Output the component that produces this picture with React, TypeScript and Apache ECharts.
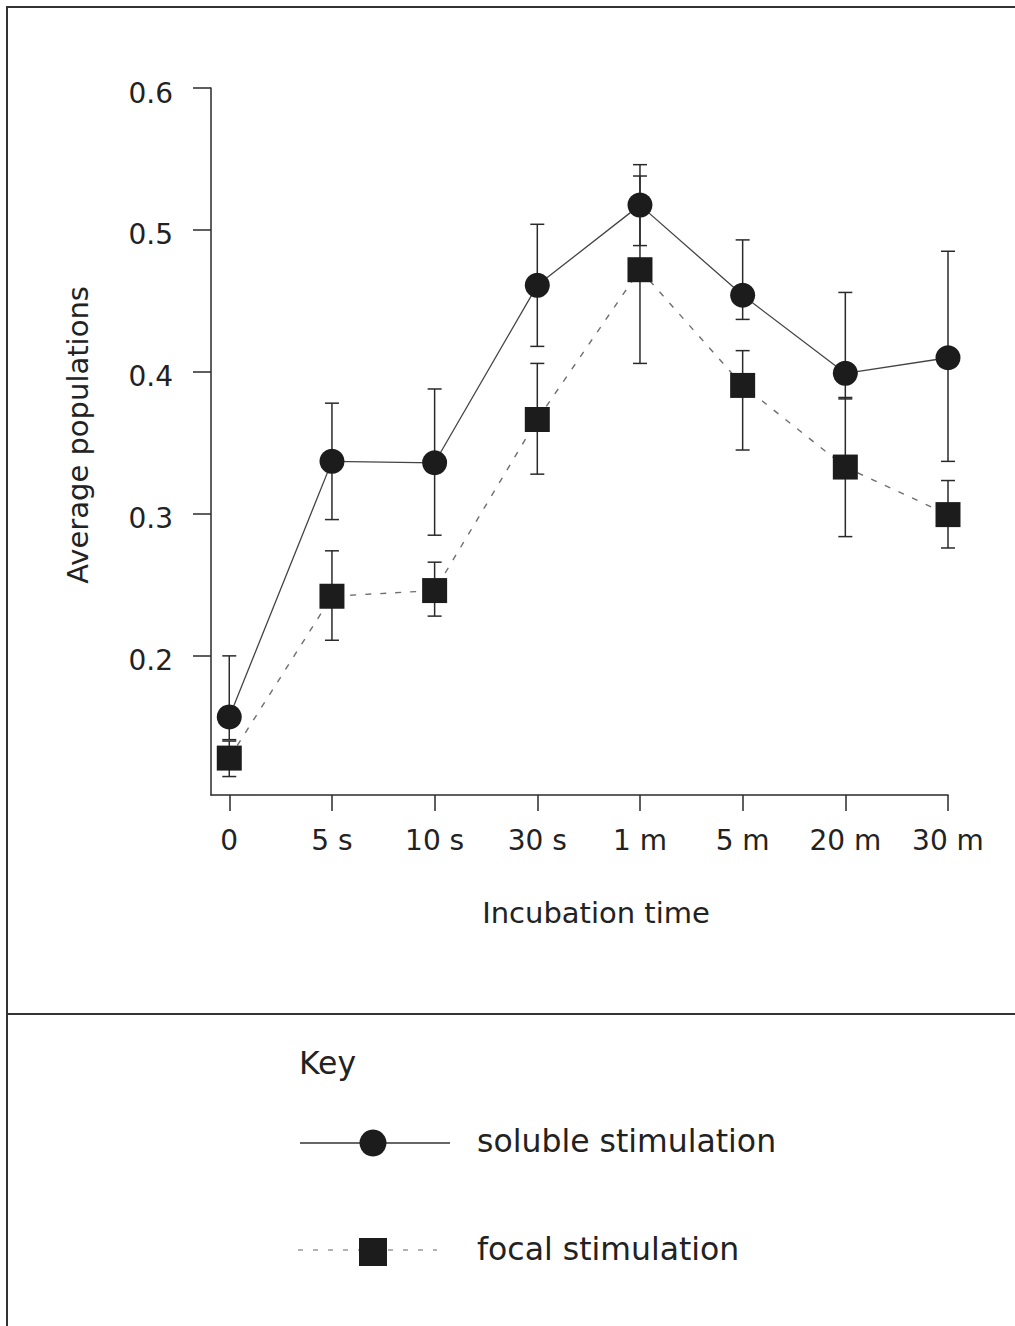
import React, { useEffect, useRef } from "react";
import * as echarts from "echarts";

const categories = ["0", "5 s", "10 s", "30 s", "1 m", "5 m", "20 m", "30 m"];
const yTicks = [0.2, 0.3, 0.4, 0.5, 0.6];

const solubleMean = [0.157, 0.337, 0.336, 0.461, 0.5175, 0.454, 0.399, 0.41];
const solubleHigh = [0.2, 0.378, 0.388, 0.504, 0.546, 0.493, 0.456, 0.485];
const solubleLow = [0.141, 0.296, 0.285, 0.418, 0.489, 0.437, 0.381, 0.337];

const focalMean = [0.128, 0.242, 0.246, 0.3665, 0.472, 0.3905, 0.333, 0.2995];
const focalHigh = [0.14, 0.274, 0.266, 0.406, 0.538, 0.415, 0.382, 0.3235];
const focalLow = [0.115, 0.211, 0.228, 0.328, 0.406, 0.345, 0.284, 0.276];

const FONT = "DejaVu Sans";
const INK = "#222";

function errorRender(params: any, api: any) {
  const x = api.value(0);
  const lo = api.value(1);
  const hi = api.value(2);
  const pLo = api.coord([x, lo]);
  const pHi = api.coord([x, hi]);
  const hw = 7;
  const st = { stroke: "#2a2a2a", lineWidth: 1.5 };
  return {
    type: "group",
    children: [
      { type: "line", shape: { x1: pHi[0], y1: pHi[1], x2: pLo[0], y2: pLo[1] }, style: st },
      { type: "line", shape: { x1: pHi[0] - hw, y1: pHi[1], x2: pHi[0] + hw, y2: pHi[1] }, style: st },
      { type: "line", shape: { x1: pLo[0] - hw, y1: pLo[1], x2: pLo[0] + hw, y2: pLo[1] }, style: st },
    ],
  };
}

export default function App() {
  const ref = useRef<HTMLDivElement>(null);
  useEffect(() => {
    if (!ref.current) return;
    const chart = echarts.init(ref.current, undefined, { renderer: "svg" });
    const xs = categories.map((_, i) => i);
    const option: any = {
      animation: false,
      backgroundColor: "#fff",
      grid: { left: 211, right: 67, top: 88, bottom: 531 },
      xAxis: {
        type: "value",
        min: -0.178,
        max: 7,
        splitLine: { show: false },
        axisLine: { show: true, onZero: false, lineStyle: { color: "#2a2a2a", width: 1.5 } },
        axisTick: {
          show: true,
          length: 16,
          customValues: xs,
          lineStyle: { color: "#2a2a2a", width: 1.5 },
        },
        axisLabel: {
          customValues: xs,
          margin: 31,
          fontFamily: FONT,
          fontSize: 28,
          color: INK,
          formatter: (v: number) => categories[Math.round(v)] ?? "",
        },
      },
      yAxis: {
        type: "value",
        min: 0.102,
        max: 0.6,
        splitLine: { show: false },
        axisLine: { show: true, onZero: false, lineStyle: { color: "#2a2a2a", width: 1.5 } },
        axisTick: {
          show: true,
          length: 18,
          customValues: yTicks,
          lineStyle: { color: "#2a2a2a", width: 1.5 },
        },
        axisLabel: {
          customValues: yTicks,
          margin: 38,
          fontFamily: FONT,
          fontSize: 28,
          color: INK,
          verticalAlign: "top",
          lineHeight: 10,
          formatter: (v: number) => v.toFixed(1),
        },
      },
      series: [
        {
          type: "custom",
          name: "soluble err",
          renderItem: errorRender,
          encode: { x: 0, y: [1, 2] },
          data: xs.map((x, i) => [x, solubleLow[i], solubleHigh[i]]),
          z: 1,
          silent: true,
        },
        {
          type: "custom",
          name: "focal err",
          renderItem: errorRender,
          encode: { x: 0, y: [1, 2] },
          data: xs.map((x, i) => [x, focalLow[i], focalHigh[i]]),
          z: 1,
          silent: true,
        },
        {
          type: "line",
          name: "focal stimulation",
          data: xs.map((x, i) => [x, focalMean[i]]),
          symbol: "rect",
          symbolSize: 25,
          itemStyle: { color: "#1c1c1c" },
          lineStyle: { color: "#6e6e6e", width: 1.4, type: [6, 9] },
          z: 3,
        },
        {
          type: "line",
          name: "soluble stimulation",
          data: xs.map((x, i) => [x, solubleMean[i]]),
          symbol: "circle",
          symbolSize: 25,
          itemStyle: { color: "#1c1c1c" },
          lineStyle: { color: "#444", width: 1.3 },
          z: 4,
        },
      ],
      graphic: [
        {
          type: "rect",
          shape: { x: 7, y: 7, width: 1030, height: 1340 },
          style: { fill: "none", stroke: "#333", lineWidth: 2 },
          silent: true,
        },
        {
          type: "line",
          shape: { x1: 7, y1: 1014, x2: 1015, y2: 1014 },
          style: { stroke: "#333", lineWidth: 2 },
          silent: true,
        },
        {
          type: "text",
          x: 78,
          y: 435,
          rotation: Math.PI / 2,
          style: {
            text: "Average populations",
            font: `29px "${FONT}"`,
            fill: INK,
            align: "center",
            verticalAlign: "middle",
          },
        },
        {
          type: "text",
          x: 596,
          y: 913,
          style: {
            text: "Incubation time",
            font: `29px "${FONT}"`,
            fill: INK,
            align: "center",
            verticalAlign: "middle",
          },
        },
        {
          type: "text",
          x: 299,
          y: 1063,
          style: {
            text: "Key",
            font: `31.5px "${FONT}"`,
            fill: INK,
            align: "left",
            verticalAlign: "middle",
          },
        },
        {
          type: "line",
          shape: { x1: 300, y1: 1143, x2: 450, y2: 1143 },
          style: { stroke: "#333", lineWidth: 1.5 },
        },
        {
          type: "circle",
          shape: { cx: 373, cy: 1143, r: 13.5 },
          style: { fill: "#1c1c1c" },
        },
        {
          type: "text",
          x: 477,
          y: 1141,
          style: {
            text: "soluble stimulation",
            font: `31.5px "${FONT}"`,
            fill: INK,
            align: "left",
            verticalAlign: "middle",
          },
        },
        {
          type: "line",
          shape: { x1: 298, y1: 1250, x2: 437, y2: 1250 },
          style: { stroke: "#999", lineWidth: 1.3, lineDash: [5, 10] },
        },
        {
          type: "rect",
          shape: { x: 359, y: 1238, width: 28, height: 28 },
          style: { fill: "#1c1c1c" },
        },
        {
          type: "text",
          x: 477,
          y: 1249,
          style: {
            text: "focal stimulation",
            font: `31.5px "${FONT}"`,
            fill: INK,
            align: "left",
            verticalAlign: "middle",
          },
        },
      ],
    };
    chart.setOption(option);
    return () => chart.dispose();
  }, []);
  return (
    <div
      ref={ref}
      style={{ position: "absolute", left: 0, top: 0, width: 1015, height: 1326, background: "#fff" }}
    />
  );
}
